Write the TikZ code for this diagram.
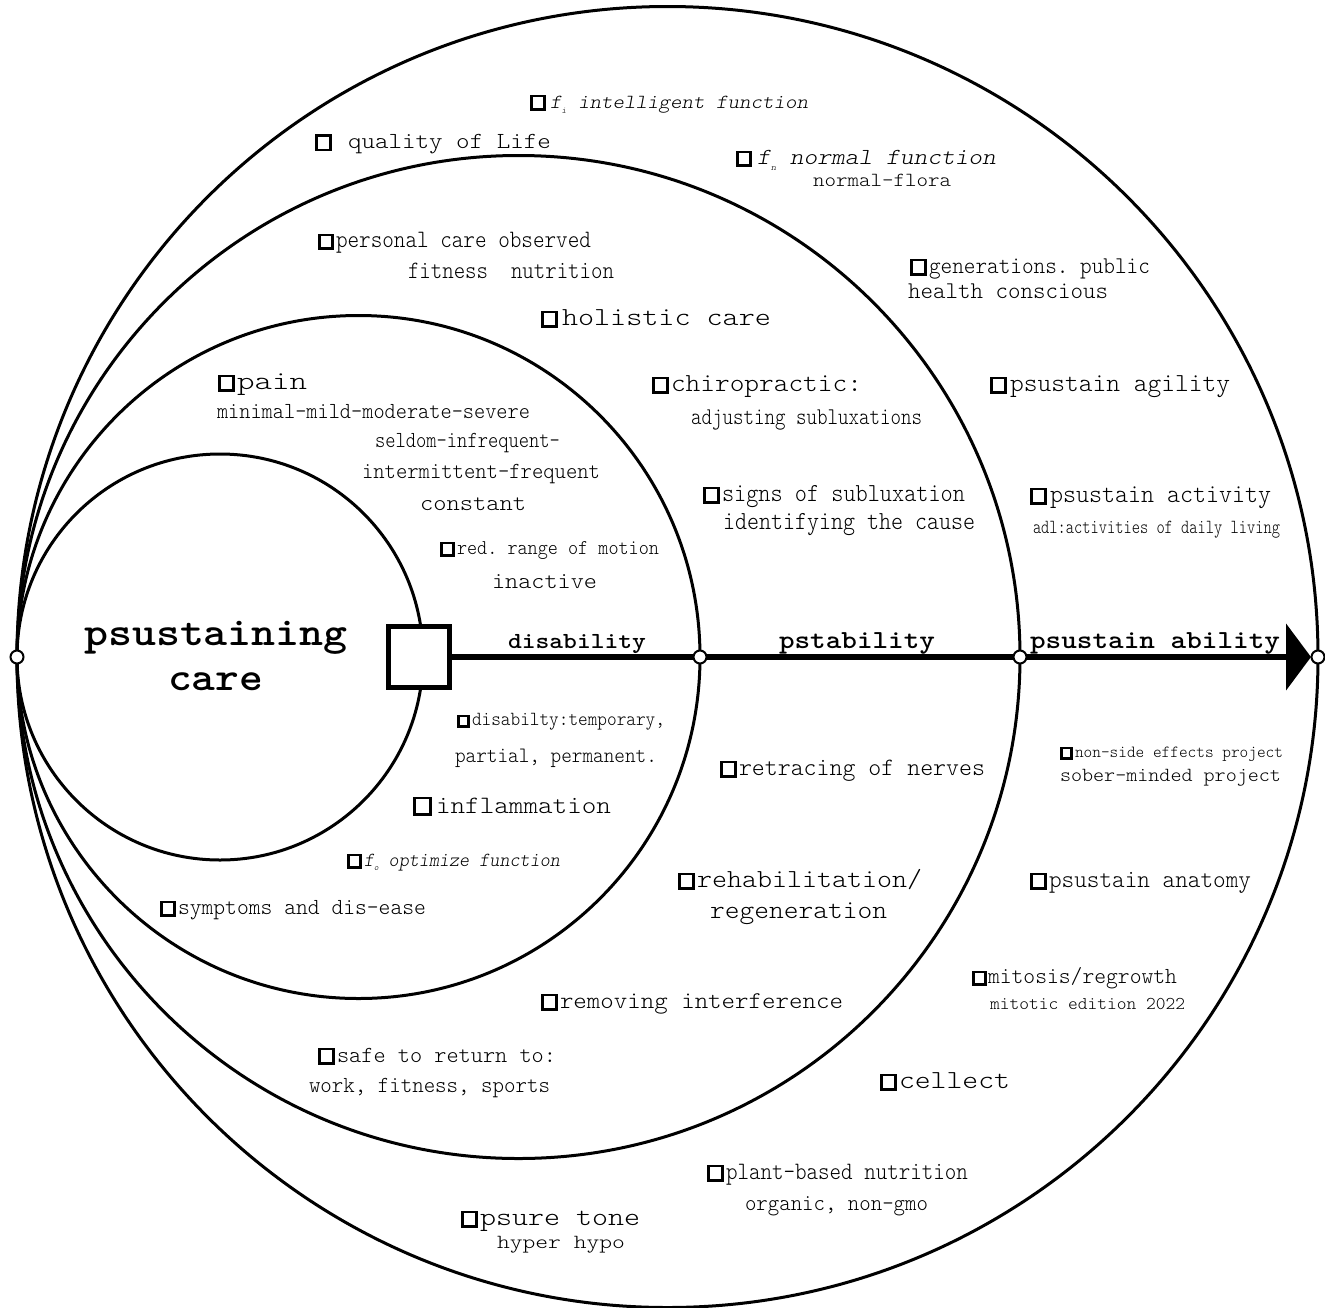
\documentclass[tikz,border=0pt]{standalone}
\usepackage{fontspec}
\usepackage{graphicx}
\setmonofont{lmmonolt10-regular.otf}[BoldFont=lmmonolt10-bold.otf, ItalicFont=lmmonolt10-oblique.otf, BoldItalicFont=lmmonolt10-boldoblique.otf]
\usetikzlibrary{arrows.meta}
\newsavebox\tbox
\newcommand\T[3]{{\sbox\tbox{\fontsize{#2}{#2}\selectfont #3}\pgfmathsetmacro\tr{#1/\wd\tbox}\scalebox{\tr}[1]{\usebox\tbox}}}
\newcommand\bx[1]{{\setlength\fboxsep{0pt}\setlength\fboxrule{2.6pt}\fbox{\rule{0pt}{\dimexpr #1pt - 5.2pt\relax}\hspace*{\dimexpr #1pt - 5.2pt\relax}}}}
\newcommand\sub[2]{\raisebox{-#1pt}{\fontsize{9}{9}\selectfont #2}}
\begin{document}
\begin{tikzpicture}[x=1pt,y=-1pt,
  ring/.style={line width=3pt},
  lbl/.style={anchor=base west, inner sep=0pt, outer sep=0pt, font=\ttfamily},
  dot/.style={circle, draw, fill=white, line width=2pt, minimum size=13pt, inner sep=0pt},
  axis/.style={line width=5.5pt}]
\useasboundingbox (0,0) rectangle (1325,1307);
% circles
\draw[ring] (220,657) circle[radius=203pt];
\draw[ring] (358.5,657) circle[radius=341.5pt];
\draw[ring] (518.5,657) circle[radius=501.5pt];
\draw[ring] (667.5,657) circle[radius=650.5pt];
% axis
\node[draw, line width=5pt, minimum size=61pt, inner sep=0pt, fill=white] (sq) at (419,657) {};
\coordinate (tip) at (1311,657);
\draw[axis, -{Triangle[length=25pt,width=66pt]}] (sq.east) -- (tip);
\node[dot] (p0) at (17,657) {};
\node[dot] (p1) at (700,657) {};
\node[dot] (p2) at (1020,657) {};
\node[dot] (p3) at (1318,657) {};
% main labels
\node[lbl] (m1) at (84,645) {\T{264}{40}{\bfseries psustaining}};
\node[lbl] (m2) at (168,690) {\T{95}{40}{\bfseries care}};
\node[lbl] (x1) at (508,648) {\T{138}{23}{\bfseries disability}};
\node[lbl] (x2) at (779,648) {\T{156}{26}{\bfseries pstability}};
\node[lbl] (x3) at (1030,648) {\T{250}{26}{\bfseries psustain ability}};
% outer ring
\node[lbl] (a1) at (530,108) {\bx{16}\hspace{4pt}\T{258}{20}{\itshape f\sub{5}{i}\ intelligent function}};
\node[lbl] (a2) at (315,148.5) {\bx{17}\hspace{16pt}\T{203}{23}{quality of Life}};
\node[lbl] (a3) at (736,164) {\bx{16}\hspace{5pt}\T{239}{23}{\itshape f\sub{6}{n}\ normal function}};
\node[lbl] (a4) at (813,186) {\T{138}{20}{normal-flora}};
\node[lbl] (a5) at (910,273) {\bx{17}\hspace{2pt}\T{221}{24}{generations. public}};
\node[lbl] (a6) at (908,298) {\T{200}{24}{health conscious}};
\node[lbl] (a7) at (990,391) {\bx{17}\hspace{3pt}\T{220}{26}{psustain agility}};
\node[lbl] (a8) at (1030,502) {\bx{17}\hspace{3pt}\T{221}{26}{psustain activity}};
\node[lbl] (a9) at (1033,533) {\T{247}{20}{adl:activities of daily living}};
\node[lbl] (a10) at (1060,757) {\bx{13}\hspace{2pt}\T{208}{17}{non-side effects project}};
\node[lbl] (a11) at (1060,781) {\T{221}{20}{sober-minded project}};
\node[lbl] (a12) at (1030,887) {\bx{17}\hspace{2pt}\T{202}{25}{psustain anatomy}};
\node[lbl] (a13) at (972,983) {\bx{15}\hspace{1pt}\T{189}{23}{mitosis/regrowth}};
\node[lbl] (a14) at (990,1009) {\T{195}{18}{mitotic edition 2022}};
\node[lbl] (a15) at (880,1088) {\bx{17}\hspace{2pt}\T{111}{26}{cellect}};
\node[lbl] (a16) at (707,1179) {\bx{17}\hspace{2pt}\T{242}{25}{plant-based nutrition}};
\node[lbl] (a17) at (745,1210) {\T{183}{23}{organic, non-gmo}};
\node[lbl] (a18) at (461,1225) {\bx{17}\hspace{2pt}\T{160}{26}{psure tone}};
\node[lbl] (a19) at (497,1248) {\T{128}{20}{hyper hypo}};
% third ring
\node[lbl] (b1) at (318,247) {\bx{16}\hspace{2pt}\T{255}{25}{personal care observed}};
\node[lbl] (b2) at (408,278) {\T{206}{25}{fitness\ \ nutrition}};
\node[lbl] (b3) at (541,325) {\bx{17}\hspace{4pt}\T{209}{26}{holistic care}};
\node[lbl] (b4) at (652,391) {\bx{17}\hspace{2pt}\T{191}{26}{chiropractic:}};
\node[lbl] (b5) at (691,424) {\T{231}{24}{adjusting subluxations}};
\node[lbl] (b6) at (703,501) {\bx{17}\hspace{2pt}\T{243}{26}{signs of subluxation}};
\node[lbl] (b7) at (723,529) {\T{252}{26}{identifying the cause}};
\node[lbl] (b8) at (720,775) {\bx{17}\hspace{2pt}\T{246}{25}{retracing of nerves}};
\node[lbl] (b9) at (678,887) {\bx{17}\hspace{2pt}\T{225}{26}{rehabilitation/}};
\node[lbl] (b10) at (710,918) {\T{177}{26}{regeneration}};
\node[lbl] (b11) at (541,1008) {\bx{17}\hspace{2pt}\T{283}{24}{removing interference}};
\node[lbl] (b12) at (318,1062) {\bx{17}\hspace{2pt}\T{219}{23}{safe to return to:}};
\node[lbl] (b13) at (309,1092) {\T{241}{23}{work, fitness, sports}};
% second ring
\node[lbl] (c1) at (218,389) {\bx{17}\hspace{2pt}\T{70}{26}{pain}};
\node[lbl] (c2) at (217,418) {\T{313}{23}{minimal-mild-moderate-severe}};
\node[lbl] (c3) at (375,447) {\T{185}{23}{seldom-infrequent-}};
\node[lbl] (c4) at (362,478) {\T{238}{23}{intermittent-frequent}};
\node[lbl] (c5) at (420,510) {\T{106}{23}{constant}};
\node[lbl] (c6) at (440,554) {\bx{15}\hspace{2pt}\T{202}{21}{red. range of motion}};
\node[lbl] (c7) at (492,588) {\T{105}{23}{inactive}};
\node[lbl] (c8) at (457,725) {\bx{13}\hspace{2pt}\T{193}{20}{disabilty:temporary,}};
\node[lbl] (c9) at (455,762) {\T{202}{22}{partial, permanent.}};
\node[lbl] (c10) at (413,813) {\bx{19}\hspace{4pt}\T{175}{25}{inflammation}};
\node[lbl] (c11) at (347,866) {\bx{15}\hspace{2pt}\T{196}{20}{\itshape f\sub{4}{o}\ optimize function}};
\node[lbl] (c12) at (160,914) {\bx{16}\hspace{2pt}\T{248}{23}{symptoms and dis-ease}};
\end{tikzpicture}
\end{document}
